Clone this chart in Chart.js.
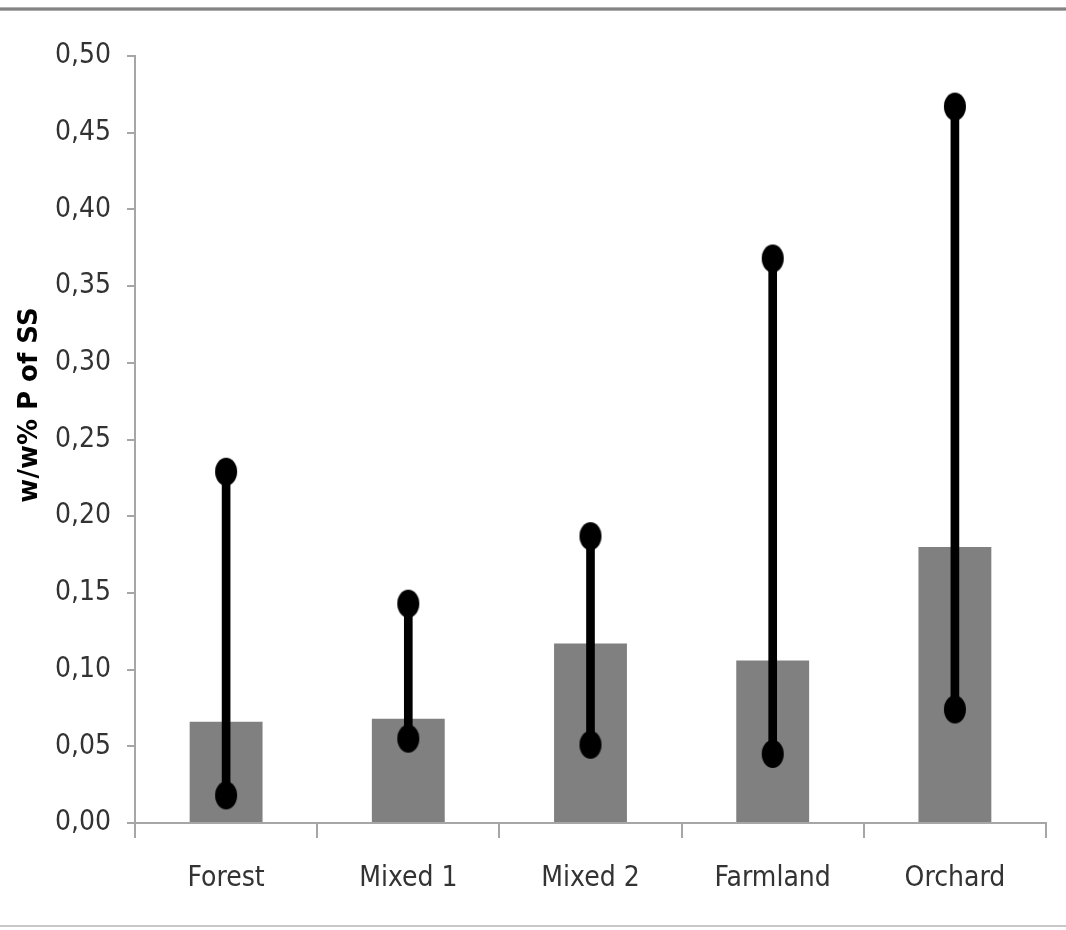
<!DOCTYPE html>
<html>
<head>
<meta charset="utf-8">
<script src="https://cdn.jsdelivr.net/npm/chart.js@4.4.0/dist/chart.umd.min.js"></script>
<style>
  html, body { margin: 0; padding: 0; background: #fff; }
  #wrap { position: relative; width: 1066px; height: 930px; }
  #topline { position: absolute; left: 0; top: 7px; width: 1066px; height: 4px;
    background: linear-gradient(#c8c8c8, #6e6e6e 50%, #c0c0c0); }
  #botline { position: absolute; left: 0; top: 925px; width: 1066px; height: 2px; background: #c8c8c8; }
  canvas { position: absolute; left: 0; top: 0; }
</style>
</head>
<body>
<div id="wrap">
  <canvas id="chart" width="1066" height="930"></canvas>
  <div id="topline"></div>
  <div id="botline"></div>
</div>
<script>
const categories = ["Forest", "Mixed 1", "Mixed 2", "Farmland", "Orchard"];
const meanValues = [0.066, 0.068, 0.117, 0.106, 0.180];
const minValues = [0.018, 0.055, 0.051, 0.045, 0.074];
const maxValues = [0.229, 0.143, 0.187, 0.368, 0.467];
const yTicks = [0, 0.05, 0.10, 0.15, 0.20, 0.25, 0.30, 0.35, 0.40, 0.45, 0.50];
const yTitle = "w/w% P of SS";

const labelFont = "'Liberation Sans Narrow', 'DejaVu Sans Condensed', sans-serif";

// oval marker like the original (slightly taller than wide)
const dot = document.createElement("canvas");
dot.width = 24; dot.height = 30;
const dctx = dot.getContext("2d");
dctx.fillStyle = "#000";
dctx.beginPath();
dctx.ellipse(12, 15, 11, 14, 0, 0, Math.PI * 2);
dctx.fill();

// y title sits a bit above the middle of the axis in the original
const yTitlePlugin = {
  id: "yTitle",
  afterDraw: (chart) => {
    const ctx = chart.ctx;
    ctx.save();
    ctx.translate(30, 405);
    ctx.rotate(-Math.PI / 2);
    ctx.fillStyle = "#000";
    ctx.font = "bold 26px 'DejaVu Sans', sans-serif";
    ctx.textAlign = "center";
    ctx.textBaseline = "middle";
    ctx.fillText(yTitle, 0, 0);
    ctx.restore();
  },
};

new Chart("chart", {
  data: {
    labels: categories,
    datasets: [
      {
        type: "bar",
        data: meanValues,
        backgroundColor: "#808080",
        categoryPercentage: 1,
        barPercentage: 0.4,
        grouped: false,
        order: 3,
      },
      {
        type: "bar",
        data: categories.map((c, i) => [minValues[i], maxValues[i]]),
        backgroundColor: "#000",
        barThickness: 8,
        grouped: false,
        order: 2,
      },
      {
        type: "line",
        data: minValues,
        showLine: false,
        pointStyle: dot,
        order: 1,
      },
      {
        type: "line",
        data: maxValues,
        showLine: false,
        pointStyle: dot,
        order: 1,
      },
    ],
  },
  plugins: [yTitlePlugin],
  options: {
    responsive: false,
    animation: false,
    layout: { padding: { top: 56, right: 20, bottom: 7, left: 0 } },
    plugins: { legend: { display: false }, tooltip: { enabled: false } },
    scales: {
      x: {
        offset: true,
        grid: { offset: true, drawOnChartArea: false, color: "#a6a6a6", lineWidth: 2, tickLength: 15 },
        border: { color: "#a6a6a6", width: 2 },
        ticks: { color: "#333", padding: 24, font: { family: labelFont, size: 28 } },
        afterFit: (s) => { s.height = 100; },
      },
      y: {
        min: 0,
        max: 0.5,
        afterBuildTicks: (s) => { s.ticks = yTicks.map((v) => ({ value: v })); },
        grid: { drawOnChartArea: false, color: "#a6a6a6", lineWidth: 2, tickLength: 8 },
        border: { color: "#a6a6a6", width: 2 },
        ticks: {
          color: "#333",
          padding: 16,
          font: { family: labelFont, size: 28 },
          callback: (v) => v.toFixed(2).replace(".", ","),
        },
        afterFit: (s) => { s.width = 135; },
      },
    },
  },
});
</script>
</body>
</html>
